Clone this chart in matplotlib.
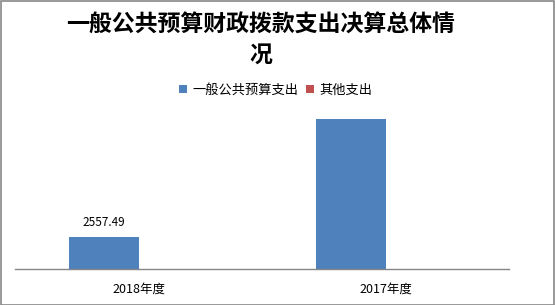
import matplotlib
matplotlib.use("Agg")
import matplotlib.pyplot as plt
from matplotlib.patches import Rectangle
import numpy as np

plt.rcParams['font.family'] = ['Noto Sans CJK SC', 'DejaVu Sans']

title = "一般公共预算财政拨款支出决算总体情\n况"
categories = ["2018年度", "2017年度"]
series_names = ["一般公共预算支出", "其他支出"]
general_budget = [2557.49, 11990]
other_spending = [0, 0]
labels_shown = ["2557.49", None]
colors = ["#4F81BD", "#C0504D"]

W, H = 555, 305
fig = plt.figure(figsize=(W/100, H/100), dpi=100)
fig.patches.append(Rectangle((0.5/W, 0.5/H), 1-1.5/W, 1-1.5/H, transform=fig.transFigure,
                             fill=False, edgecolor="#888888", linewidth=1.2))

ax = fig.add_axes([15/W, 36/H, 494/W, 169/H])
x = np.arange(len(categories))
bw = 70/247
ax.bar(x - bw/2, general_budget, width=bw, color=colors[0], label=series_names[0])
ax.bar(x + bw/2, other_spending, width=bw, color=colors[1], label=series_names[1])
for xi, v, lab in zip(x, general_budget, labels_shown):
    if lab:
        ax.text(xi - bw/2, v + 600, lab, ha="center", va="bottom", fontsize=8.5, color="#000000")

ax.set_xlim(-0.5, 1.5)
ax.set_ylim(0, 13500)
ax.set_yticks([])
ax.set_xticks(x)
ax.set_xticklabels(categories, fontsize=9)
ax.tick_params(axis="x", length=0, pad=10)
for s in ["top", "right", "left"]:
    ax.spines[s].set_visible(False)
ax.spines["bottom"].set_color("#868686")
ax.spines["bottom"].set_linewidth(1)

fig.text(261/W, 1-40/H, title, ha="center", va="center", fontsize=16.5, fontweight="bold",
         linespacing=1.4)

leg = fig.legend(loc="center", bbox_to_anchor=(276/W, 1-90/H), ncol=2, frameon=False,
                 fontsize=9.5, handlelength=0.6, handleheight=0.6, handletextpad=0.4,
                 columnspacing=0.6)

fig.savefig("out.png", dpi=100)
